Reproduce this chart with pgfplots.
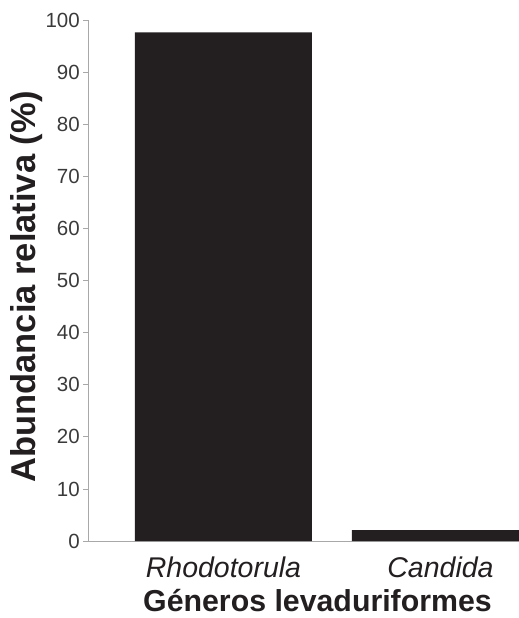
\documentclass[border=0pt]{standalone}
\usepackage{pgfplots}
\pgfplotsset{compat=1.18}
\usepackage{fontspec}
\setmainfont{Liberation Sans}
\definecolor{barblack}{HTML}{231F20}
\definecolor{axisgray}{HTML}{A8A8A8}
\definecolor{ticktext}{HTML}{3A3A3A}
\begin{document}
\begin{tikzpicture}
\begin{axis}[
    at={(0,0)}, anchor=south west,
    scale only axis,
    width=431bp, height=520.5bp,
    xmin=-0.6244, xmax=1.3618,
    ymin=0, ymax=100,
    ytick={0,10,...,100},
    xtick={0,1},
    xticklabels={\textit{Rhodotorula}, \textit{Candida}},
    axis lines*=left,
    axis line style={axisgray, line width=0.9bp, -},
    tick align=outside,
    major tick length=4.5bp,
    ytick style={axisgray, line width=0.9bp},
    xtick style={draw=none},
    /pgf/number format/assume math mode=true,
    yticklabel style={font=\fontsize{20.5bp}{24bp}\selectfont, text=ticktext, anchor=east, inner sep=0pt, xshift=-3.5bp},
    xticklabel style={font=\fontsize{28.5bp}{32bp}\selectfont, text=barblack, anchor=base, inner sep=0pt, yshift=-32bp},
    xlabel={Géneros levaduriformes},
    xlabel style={font=\bfseries\fontsize{30.3bp}{36bp}\selectfont, text=barblack, at={(rel axis cs:0.5325,0)}, anchor=base, inner sep=0pt, yshift=-70bp},
    ylabel={Abundancia relativa (\%)},
    ylabel style={font=\bfseries\fontsize{34.5bp}{40bp}\selectfont, text=barblack, at={(rel axis cs:-0.1415,0.488)}, anchor=center, inner sep=0pt},
    clip=true,
]
\addplot[ybar, bar width=177bp, fill=barblack, draw=none] coordinates {
    (0,97.7)
    (1,2.1)
};
\end{axis}
\pgfresetboundingbox
\useasboundingbox (-88bp,-77bp) rectangle (431bp,541bp);
\end{tikzpicture}
\end{document}
